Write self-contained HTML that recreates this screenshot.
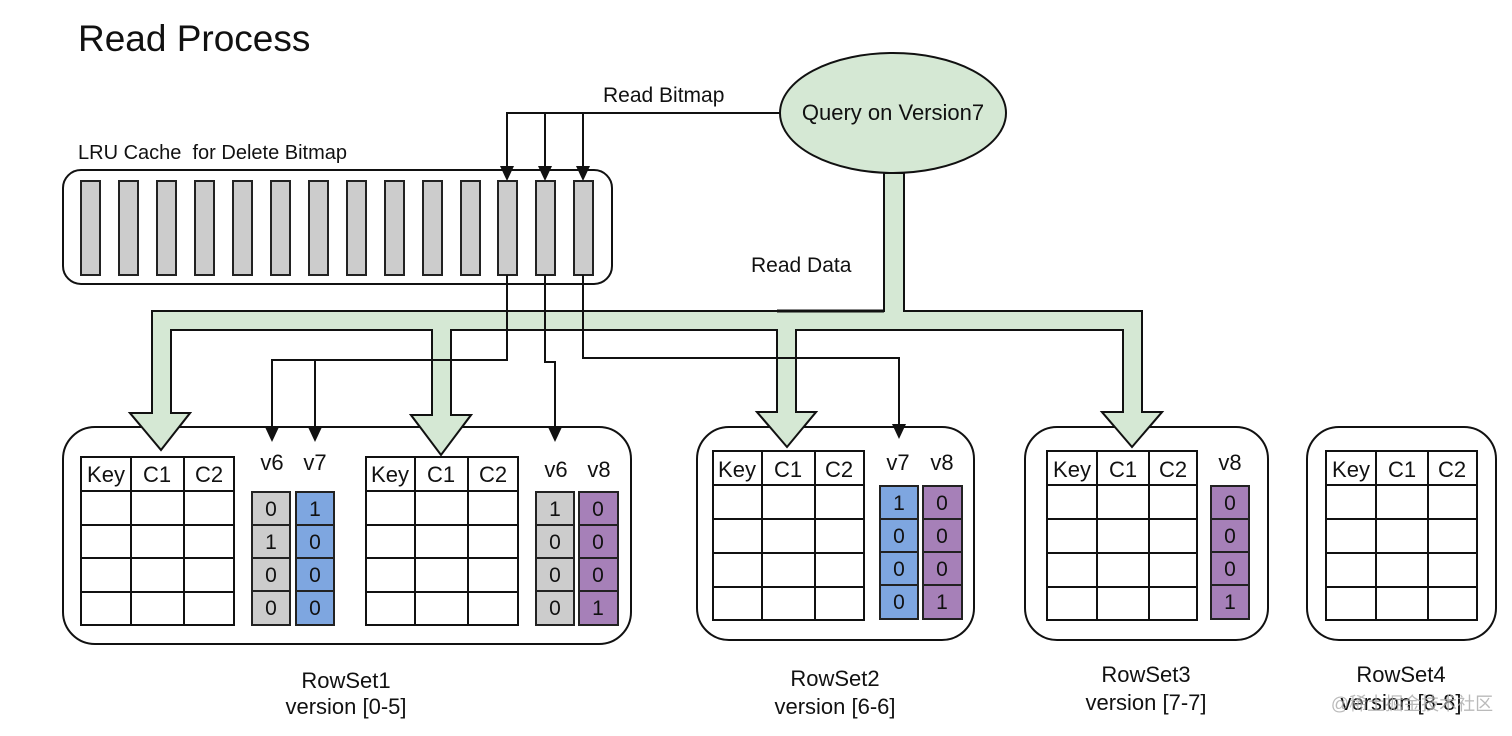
<!DOCTYPE html>
<html><head><meta charset="utf-8"><style>
html,body{margin:0;padding:0;background:#fff;}
svg{display:block;}
text{font-family:"Liberation Sans",Arial,sans-serif;fill:#111;}
</style></head><body>
<svg width="1512" height="736" viewBox="0 0 1512 736" xmlns="http://www.w3.org/2000/svg">
<text x="78" y="51" font-size="37">Read Process</text>
<text x="78" y="159" font-size="20" xml:space="preserve">LRU Cache  for Delete Bitmap</text>
<text x="603" y="102" font-size="21">Read Bitmap</text>
<text x="751" y="272" font-size="21">Read Data</text>

<rect x="63" y="170" width="549" height="114" rx="18" fill="#fff" stroke="#111" stroke-width="2"/>
<g fill="#cccccc" stroke="#222" stroke-width="2">
<rect x="81" y="181" width="19" height="94"/><rect x="119" y="181" width="19" height="94"/><rect x="157" y="181" width="19" height="94"/><rect x="195" y="181" width="19" height="94"/><rect x="233" y="181" width="19" height="94"/><rect x="271" y="181" width="19" height="94"/><rect x="309" y="181" width="19" height="94"/><rect x="347" y="181" width="19" height="94"/><rect x="385" y="181" width="19" height="94"/><rect x="423" y="181" width="19" height="94"/><rect x="461" y="181" width="19" height="94"/><rect x="498" y="181" width="19" height="94"/><rect x="536" y="181" width="19" height="94"/><rect x="574" y="181" width="19" height="94"/>
</g>

<ellipse cx="893" cy="113" rx="113" ry="60" fill="#d5e8d4" stroke="#111" stroke-width="2"/>
<text x="893" y="120" font-size="22" text-anchor="middle">Query on Version7</text>

<g fill="none" stroke="#111" stroke-width="2">
<polyline points="780,113 507,113 507,172"/>
<line x1="545" y1="113" x2="545" y2="172"/>
<line x1="583" y1="113" x2="583" y2="172"/>
</g>
<g fill="#111">
<polygon points="500,166 514,166 507,181"/>
<polygon points="538,166 552,166 545,181"/>
<polygon points="576,166 590,166 583,181"/>
</g>

<path d="M884,173 L904,173 L904,311 L1142,311 L1142,412 L1162,412 L1132,447 L1102,412 L1123,412 L1123,330 L796,330 L796,412 L816,412 L787,447 L757,412 L777,412 L777,330 L451,330 L451,415 L471,415 L441,455 L411,415 L432,415 L432,330 L171,330 L171,413 L190,413 L161,450 L130,413 L152,413 L152,311 L884,311 Z" fill="#d5e8d4" stroke="#111" stroke-width="2" stroke-linejoin="miter"/>
<line x1="777" y1="311" x2="884" y2="311" stroke="#111" stroke-width="3"/>

<g fill="#fff" stroke="#111" stroke-width="2">
<rect x="63" y="427" width="568" height="217" rx="32"/>
<rect x="697" y="427" width="277" height="213" rx="32"/>
<rect x="1025" y="427" width="243" height="213" rx="32"/>
<rect x="1307" y="427" width="189" height="213" rx="32"/>
</g>
<g fill="#d5e8d4" stroke="#111" stroke-width="2">
<polygon points="130,413 190,413 161,450"/>
<polygon points="411,415 471,415 441,455"/>
<polygon points="757,412 816,412 787,447"/>
<polygon points="1102,412 1162,412 1132,447"/>
</g>
<g fill="#d5e8d4">
<rect x="153" y="405" width="17" height="10"/>
<rect x="433" y="405" width="17" height="12"/>
<rect x="778" y="405" width="17" height="9"/>
<rect x="1124" y="405" width="17" height="9"/>
</g>

<g fill="none" stroke="#111" stroke-width="2">
<polyline points="507,275 507,360 272,360 272,432"/>
<line x1="315" y1="360" x2="315" y2="432"/>
<polyline points="545,275 545,362 555,362 555,432"/>
<polyline points="583,275 583,358 899,358 899,427"/>
</g>
<g fill="#111">
<polygon points="265,427 279,427 272,442"/>
<polygon points="308,427 322,427 315,442"/>
<polygon points="548,427 562,427 555,442"/>
<polygon points="892,424 906,424 899,439"/>
</g>

<g fill="none" stroke="#111" stroke-width="2">
<rect x="81" y="457" width="153" height="168"/>
<line x1="81" y1="491" x2="234" y2="491"/><line x1="81" y1="525" x2="234" y2="525"/><line x1="81" y1="558" x2="234" y2="558"/><line x1="81" y1="592" x2="234" y2="592"/>
<line x1="131" y1="457" x2="131" y2="625"/><line x1="184" y1="457" x2="184" y2="625"/>
<rect x="366" y="457" width="152" height="168"/>
<line x1="366" y1="491" x2="518" y2="491"/><line x1="366" y1="525" x2="518" y2="525"/><line x1="366" y1="558" x2="518" y2="558"/><line x1="366" y1="592" x2="518" y2="592"/>
<line x1="415" y1="457" x2="415" y2="625"/><line x1="468" y1="457" x2="468" y2="625"/>
<rect x="713" y="451" width="151" height="169"/>
<line x1="713" y1="485" x2="864" y2="485"/><line x1="713" y1="519" x2="864" y2="519"/><line x1="713" y1="553" x2="864" y2="553"/><line x1="713" y1="587" x2="864" y2="587"/>
<line x1="762" y1="451" x2="762" y2="620"/><line x1="815" y1="451" x2="815" y2="620"/>
<rect x="1047" y="451" width="150" height="169"/>
<line x1="1047" y1="485" x2="1197" y2="485"/><line x1="1047" y1="519" x2="1197" y2="519"/><line x1="1047" y1="553" x2="1197" y2="553"/><line x1="1047" y1="587" x2="1197" y2="587"/>
<line x1="1097" y1="451" x2="1097" y2="620"/><line x1="1149" y1="451" x2="1149" y2="620"/>
<rect x="1326" y="451" width="151" height="169"/>
<line x1="1326" y1="485" x2="1477" y2="485"/><line x1="1326" y1="519" x2="1477" y2="519"/><line x1="1326" y1="553" x2="1477" y2="553"/><line x1="1326" y1="587" x2="1477" y2="587"/>
<line x1="1376" y1="451" x2="1376" y2="620"/><line x1="1428" y1="451" x2="1428" y2="620"/>
</g>
<g font-size="22" text-anchor="middle">
<text x="106" y="482">Key</text><text x="157" y="482">C1</text><text x="209" y="482">C2</text>
<text x="390" y="482">Key</text><text x="441" y="482">C1</text><text x="493" y="482">C2</text>
<text x="737" y="477">Key</text><text x="788" y="477">C1</text><text x="839" y="477">C2</text>
<text x="1072" y="477">Key</text><text x="1123" y="477">C1</text><text x="1173" y="477">C2</text>
<text x="1351" y="477">Key</text><text x="1402" y="477">C1</text><text x="1452" y="477">C2</text>
<text x="272" y="470">v6</text><text x="315" y="470">v7</text>
<text x="556" y="477">v6</text><text x="599" y="477">v8</text>
<text x="898" y="470">v7</text><text x="942" y="470">v8</text>
<text x="1230" y="470">v8</text>
</g>

<g stroke="#222" stroke-width="2">
<g fill="#cccccc"><rect x="252" y="492" width="38" height="33"/><rect x="252" y="525" width="38" height="33"/><rect x="252" y="558" width="38" height="33"/><rect x="252" y="591" width="38" height="34"/></g>
<g fill="#7ea6e0"><rect x="296" y="492" width="38" height="33"/><rect x="296" y="525" width="38" height="33"/><rect x="296" y="558" width="38" height="33"/><rect x="296" y="591" width="38" height="34"/></g>
<g fill="#cccccc"><rect x="536" y="492" width="38" height="33"/><rect x="536" y="525" width="38" height="33"/><rect x="536" y="558" width="38" height="33"/><rect x="536" y="591" width="38" height="34"/></g>
<g fill="#a680b8"><rect x="579" y="492" width="39" height="33"/><rect x="579" y="525" width="39" height="33"/><rect x="579" y="558" width="39" height="33"/><rect x="579" y="591" width="39" height="34"/></g>
<g fill="#7ea6e0"><rect x="880" y="486" width="38" height="33"/><rect x="880" y="519" width="38" height="33"/><rect x="880" y="552" width="38" height="33"/><rect x="880" y="585" width="38" height="34"/></g>
<g fill="#a680b8"><rect x="923" y="486" width="39" height="33"/><rect x="923" y="519" width="39" height="33"/><rect x="923" y="552" width="39" height="33"/><rect x="923" y="585" width="39" height="34"/></g>
<g fill="#a680b8"><rect x="1211" y="486" width="38" height="33"/><rect x="1211" y="519" width="38" height="33"/><rect x="1211" y="552" width="38" height="33"/><rect x="1211" y="585" width="38" height="34"/></g>
</g>
<g font-size="21" text-anchor="middle">
<text x="271" y="516">0</text><text x="271" y="549">1</text><text x="271" y="582">0</text><text x="271" y="615">0</text>
<text x="315" y="516">1</text><text x="315" y="549">0</text><text x="315" y="582">0</text><text x="315" y="615">0</text>
<text x="555" y="516">1</text><text x="555" y="549">0</text><text x="555" y="582">0</text><text x="555" y="615">0</text>
<text x="598" y="516">0</text><text x="598" y="549">0</text><text x="598" y="582">0</text><text x="598" y="615">1</text>
<text x="899" y="510">1</text><text x="899" y="543">0</text><text x="899" y="576">0</text><text x="899" y="609">0</text>
<text x="942" y="510">0</text><text x="942" y="543">0</text><text x="942" y="576">0</text><text x="942" y="609">1</text>
<text x="1230" y="510">0</text><text x="1230" y="543">0</text><text x="1230" y="576">0</text><text x="1230" y="609">1</text>
</g>

<g font-size="22" text-anchor="middle">
<text x="346" y="688">RowSet1</text><text x="346" y="714">version [0-5]</text>
<text x="835" y="686">RowSet2</text><text x="835" y="714">version [6-6]</text>
<text x="1146" y="682">RowSet3</text><text x="1146" y="710">version [7-7]</text>
<text x="1401" y="682">RowSet4</text><text x="1401" y="710">version [8-8]</text>
</g>
<text x="1412" y="710" font-size="18" text-anchor="middle" style="fill:#aaa;font-family:'Liberation Sans','Noto Sans CJK SC',sans-serif;" opacity="0.8">@稀土掘金技术社区</text>
</svg>
</body></html>
